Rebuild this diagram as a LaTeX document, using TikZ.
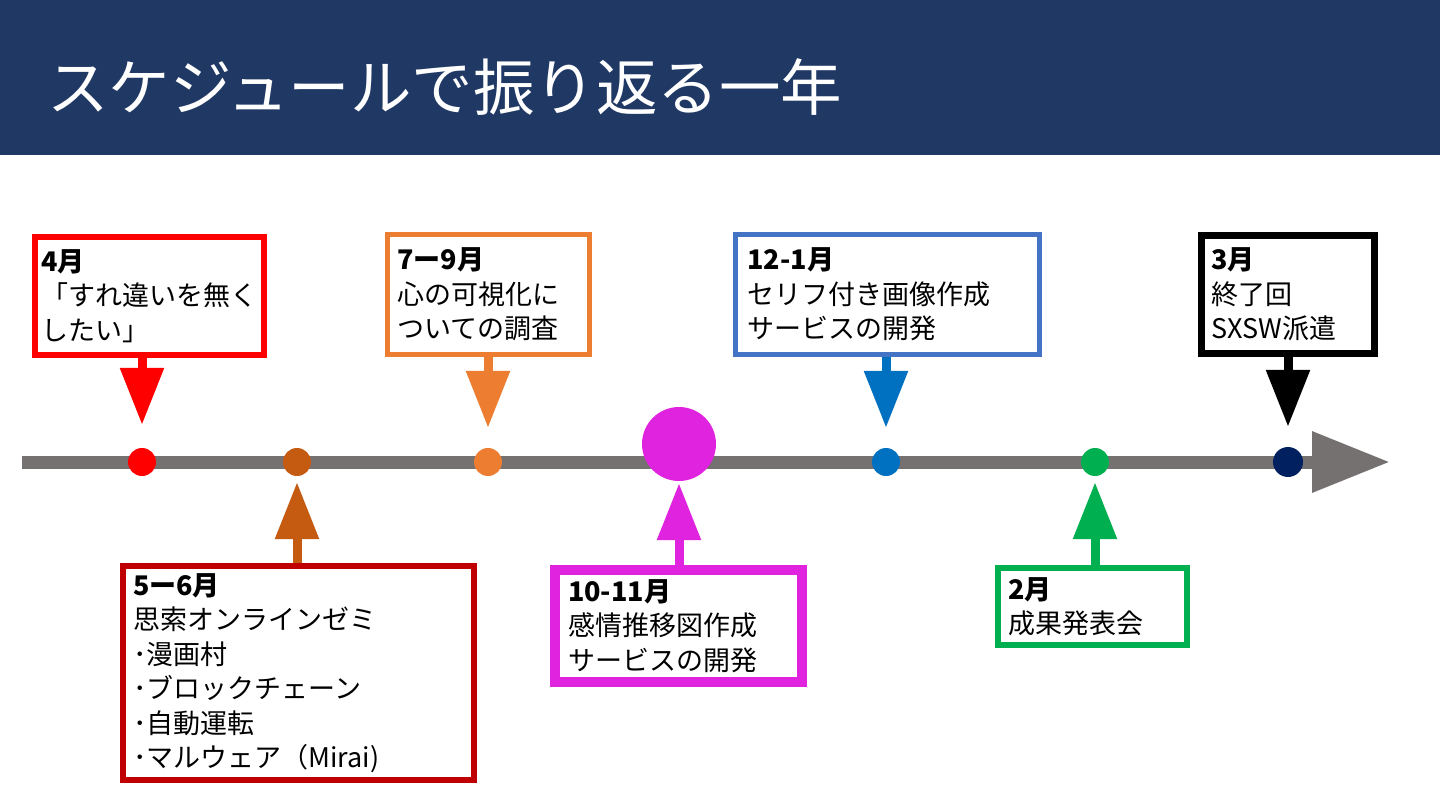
\documentclass[tikz,border=0pt]{standalone}
\usepackage{fontspec}
\setmainfont{Noto Sans CJK JP}
\usetikzlibrary{arrows.meta}
\definecolor{titlebg}{HTML}{203864}
\definecolor{tlgray}{HTML}{767171}
\definecolor{cred}{HTML}{FF0000}
\definecolor{cdarkred}{HTML}{C00000}
\definecolor{cbrown}{HTML}{C55A11}
\definecolor{corange}{HTML}{ED7D31}
\definecolor{cmagenta}{HTML}{E023DE}
\definecolor{cboxblue}{HTML}{4472C4}
\definecolor{cblue}{HTML}{0070C0}
\definecolor{cgreen}{HTML}{00B050}
\definecolor{cnavy}{HTML}{002060}
\tikzset{
  tbox/.style={rectangle, align=left, fill=white, inner ysep=0pt,
    font=\fontsize{27}{34.5}\selectfont, text=black},
  dot/.style={circle, inner sep=0pt, minimum size=28pt, fill=#1},
  pointer/.style={draw=#1, line width=9pt,
    -{Triangle[width=42pt,length=57pt]}},
}
\begin{document}
\begin{tikzpicture}[x=1pt,y=-1pt]
\useasboundingbox (0,0) rectangle (1440,810);
\fill[white] (0,0) rectangle (1440,810);
\fill[titlebg] (0,0) rectangle (1440,155);
\node[anchor=west, inner sep=0pt, text=white, font=\fontsize{61.5}{62}\selectfont] (title) at (47,87) {スケジュールで振り返る一年};

% timeline
\coordinate (tlstart) at (22,462);
\coordinate (tlend) at (1390,462);
\draw[tlgray, line width=13pt, -{Triangle[width=58pt,length=78pt]}] (tlstart) -- (tlend);

% dots
\node[dot=cred] (d1) at (142,462) {};
\node[dot=cbrown] (d2) at (297,462) {};
\node[dot=corange] (d3) at (488,462) {};
\node[circle, inner sep=0pt, minimum size=74pt, fill=cmagenta] (d4) at (679,444) {};
\node[dot=cblue] (d5) at (886,462) {};
\node[dot=cgreen] (d6) at (1095,462) {};
\node[dot=cnavy, minimum size=30pt] (d7) at (1288,462) {};

% boxes
\node[tbox, draw=cred, line width=6pt, inner xsep=6pt, minimum width=229pt, minimum height=118pt, text width=217pt] (b1) at (149.5,296)
  {\textbf{4月}\\「すれ違いを無く\\したい」};
\node[tbox, draw=cdarkred, line width=6pt, inner xsep=10pt, minimum width=351pt, minimum height=214pt, text width=331pt] (b2) at (298.5,673)
  {\textbf{5ー6月}\\思索オンラインゼミ\\･漫画村\\･ブロックチェーン\\･自動運転\\･マルウェア（Mirai)};
\node[tbox, draw=corange, line width=5pt, inner xsep=10pt, minimum width=202pt, minimum height=120pt, text width=182pt] (b3) at (488.5,294.5)
  {\textbf{7ー9月}\\心の可視化に\\ついての調査};
\node[tbox, draw=cmagenta, line width=10pt, inner xsep=13pt, minimum width=247pt, minimum height=112pt, text width=221pt] (b4) at (678.5,626)
  {\textbf{10-11月}\\感情推移図作成\\サービスの開発};
\node[tbox, draw=cboxblue, line width=5pt, inner xsep=12pt, minimum width=304pt, minimum height=120pt, text width=280pt] (b5) at (887.5,294.5)
  {\textbf{12-1月}\\セリフ付き画像作成\\サービスの開発};
\node[tbox, draw=cgreen, line width=6pt, inner xsep=10pt, minimum width=189pt, minimum height=77pt, text width=169pt] (b6) at (1092.5,606.5)
  {\textbf{2月}\\成果発表会};
\node[tbox, draw=black, line width=7pt, inner xsep=10pt, minimum width=173pt, minimum height=118pt, text width=153pt] (b7) at (1288,294.5)
  {\textbf{3月}\\終了回\\SXSW派遣};

% pointers
\draw[pointer=cred, shorten >=23pt] (b1.south -| d1.north) -- (d1.north);
\draw[pointer=cbrown, shorten >=6pt] (b2.north -| d2.south) -- (d2.south);
\draw[pointer=corange, shorten >=20pt] (b3.south -| d3.north) -- (d3.north);
\draw[pointer=cmagenta, shorten >=2pt] (b4.north -| d4.south) -- (d4.south);
\draw[pointer=cblue, shorten >=20pt] (b5.south -| d5.north) -- (d5.north);
\draw[pointer=cgreen, shorten >=6pt] (b6.north -| d6.south) -- (d6.south);
\draw[pointer=black, shorten >=20pt] (b7.south -| d7.north) -- (d7.north);
\end{tikzpicture}
\end{document}
